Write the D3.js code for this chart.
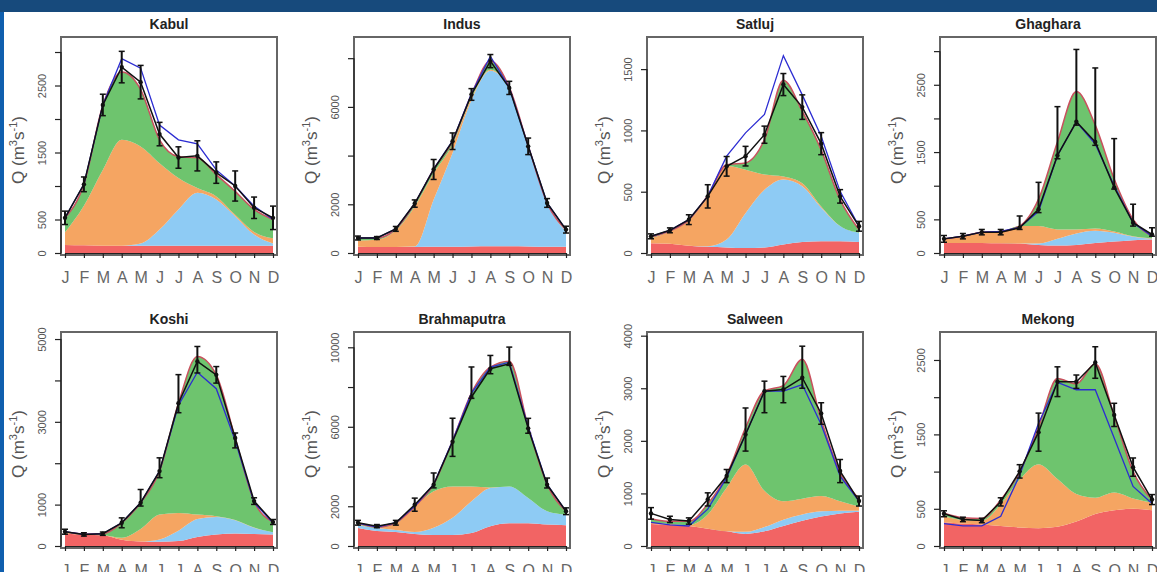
<!DOCTYPE html>
<html>
<head>
<meta charset="utf-8">
<script src="https://cdn.jsdelivr.net/npm/d3@7"></script>
<style>
  body { margin: 0; background: #fff; }
  svg { display: block; font-family: "Liberation Sans", Arial, sans-serif; }
</style>
</head>
<body>
<script>
// months and rivers
const months = ["J", "F", "M", "A", "M", "J", "J", "A", "S", "O", "N", "D"];
const rivers = ["Kabul", "Indus", "Satluj", "Ghaghara", "Koshi", "Brahmaputra", "Salween", "Mekong"];

// y axis limits and ticks per river
const yMax = [3224, 8870, 1762, 3210, 5170, 10770, 4070, 2876];
const yTicks = [
    [0, 500, 1000, 1500, 2000, 2500, 3000],
    [0, 2000, 4000, 6000, 8000],
    [0, 500, 1000, 1500],
    [0, 500, 1000, 1500, 2000, 2500, 3000],
    [0, 1000, 2000, 3000, 4000, 5000],
    [0, 2000, 4000, 6000, 8000, 10000],
    [0, 1000, 2000, 3000, 4000],
    [0, 500, 1000, 1500, 2000, 2500]
];
const yLabels = [
    [0, 500, 1500, 2500],
    [0, 2000, 6000],
    [0, 500, 1000, 1500],
    [0, 500, 1500, 2500],
    [0, 1000, 3000, 5000],
    [0, 2000, 6000, 10000],
    [0, 1000, 2000, 3000, 4000],
    [0, 500, 1500, 2500]
];

// flow components (m3/s), one row per river
const baseflow = [
    [120, 115, 110, 110, 110, 110, 110, 110, 110, 110, 110, 110],
    [260, 250, 250, 250, 260, 260, 270, 280, 280, 270, 260, 260],
    [80, 75, 60, 50, 45, 40, 45, 70, 90, 95, 95, 90],
    [150, 150, 150, 145, 140, 120, 110, 120, 150, 170, 190, 200],
    [300, 270, 260, 150, 110, 100, 120, 220, 280, 300, 290, 280],
    [900, 750, 700, 600, 550, 550, 650, 1000, 1150, 1150, 1080, 1050],
    [420, 400, 380, 330, 280, 230, 280, 380, 480, 560, 620, 650],
    [320, 300, 290, 270, 250, 240, 260, 330, 430, 480, 500, 480]
];
const glacier = [
    [0, 0, 0, 0, 30, 240, 540, 790, 690, 440, 165, 30],
    [0, 0, 0, 20, 1930, 3850, 6000, 7200, 6450, 4100, 1780, 620],
    [0, 0, 0, 5, 65, 285, 470, 530, 455, 275, 125, 75],
    [0, 0, 0, 0, 0, 20, 100, 170, 180, 130, 50, 10],
    [0, 0, 0, 0, 0, 60, 250, 430, 420, 320, 150, 50],
    [150, 150, 100, 100, 370, 870, 1600, 1920, 1850, 1270, 670, 530],
    [0, 0, 0, 0, 0, 40, 80, 120, 120, 100, 50, 20],
    [0, 0, 0, 0, 0, 0, 0, 0, 0, 0, 0, 0]
];
const snow = [
    [190, 590, 1130, 1580, 1450, 990, 470, 70, 45, 20, 40, 80],
    [250, 290, 680, 1640, 1090, 350, 100, 50, 20, 10, 10, 40],
    [40, 100, 205, 405, 600, 355, 125, 25, 25, 10, 0, 0],
    [50, 100, 150, 170, 260, 260, 140, 60, 35, 20, 10, 10],
    [25, 0, 0, 50, 300, 600, 430, 110, 20, 10, 5, 0],
    [50, 20, 320, 1300, 1830, 1580, 750, 30, 0, 0, 0, 0],
    [20, 20, 20, 270, 830, 1280, 690, 350, 300, 290, 180, 80],
    [80, 50, 50, 290, 640, 860, 640, 370, 220, 240, 140, 100]
];
const rain = [
    [215, 320, 960, 1010, 850, 350, 320, 450, 325, 350, 335, 280],
    [105, 75, 60, 120, 150, 130, 140, 350, 50, 20, 10, 40],
    [10, 5, 5, 10, 10, 55, 285, 785, 585, 460, 215, 25],
    [10, 0, 10, 5, 0, 400, 1300, 2050, 1535, 780, 250, 30],
    [20, 20, 37, 360, 635, 1050, 2650, 3820, 3415, 1980, 640, 248],
    [50, 30, 50, 0, 350, 2300, 4700, 6050, 6300, 3580, 1350, 170],
    [80, 50, 70, 200, 240, 700, 1900, 2200, 2650, 1450, 550, 150],
    [40, 30, 30, 60, 100, 500, 1350, 1480, 1800, 1030, 360, 40]
];

// second simulated total (blue line)
const simQ = [
    [525, 1025, 2210, 2900, 2760, 1910, 1690, 1630, 1240, 1000, 700, 500],
    [615, 615, 990, 2030, 3450, 4600, 6550, 8080, 6800, 4400, 2060, 960],
    [136, 185, 272, 462, 790, 980, 1130, 1610, 1290, 952, 503, 218],
    [210, 250, 310, 320, 380, 620, 1450, 1950, 1620, 1000, 450, 250],
    [345, 280, 297, 560, 1045, 1810, 3400, 4200, 3800, 2550, 1050, 560],
    [1150, 950, 1170, 2000, 3100, 5300, 7700, 9000, 9250, 6000, 3100, 1750],
    [450, 400, 380, 700, 1300, 2120, 2945, 2945, 3070, 2310, 1330, 855],
    [300, 270, 270, 400, 950, 1650, 2200, 2100, 2100, 1450, 800, 570]
];

// observed mean and error bar ends
const obsQ = [
    [525, 1025, 2210, 2775, 2550, 1775, 1425, 1450, 1200, 1000, 675, 525],
    [615, 615, 990, 2030, 3430, 4590, 6510, 7880, 6780, 4380, 2055, 960],
    [136, 185, 272, 462, 707, 790, 965, 1374, 1190, 892, 462, 218],
    [210, 250, 310, 310, 375, 650, 1450, 1950, 1650, 975, 450, 275],
    [345, 280, 297, 560, 1045, 1810, 3450, 4460, 4135, 2610, 1085, 578],
    [1170, 1000, 1170, 2080, 3080, 5250, 7500, 8920, 9170, 5920, 3080, 1750],
    [620, 506, 475, 886, 1330, 2120, 2945, 2975, 3200, 2520, 1425, 855],
    [433, 357, 343, 593, 1003, 1530, 2208, 2208, 2466, 1762, 1060, 624]
];
const obsLo = [
    [425, 915, 2050, 2540, 2300, 1600, 1265, 1225, 1040, 775, 515, 350],
    [535, 555, 890, 1880, 3020, 4250, 6270, 7610, 6510, 4040, 1875, 820],
    [116, 165, 232, 367, 627, 710, 895, 1284, 1090, 802, 407, 178],
    [160, 210, 270, 270, 350, 600, 1400, 1900, 1600, 950, 400, 250],
    [285, 240, 257, 440, 965, 1650, 3220, 4180, 3935, 2370, 1005, 520],
    [1050, 920, 1050, 1750, 2925, 4510, 7430, 8670, 9090, 5675, 2920, 1580],
    [510, 446, 415, 761, 1205, 1805, 2535, 2725, 3000, 2315, 1205, 760],
    [393, 327, 313, 538, 913, 1274, 2008, 2118, 2254, 1606, 937, 557]
];
const obsHi = [
    [625, 1135, 2370, 3010, 2800, 1950, 1585, 1675, 1360, 1225, 835, 700],
    [695, 675, 1090, 2180, 3840, 4930, 6750, 8150, 7050, 4720, 2235, 1100],
    [156, 205, 312, 557, 787, 870, 1035, 1464, 1290, 982, 517, 258],
    [260, 290, 350, 350, 550, 1050, 2175, 3025, 2750, 1700, 725, 375],
    [405, 320, 337, 680, 1365, 2130, 4140, 4820, 4335, 2730, 1165, 640],
    [1290, 1080, 1290, 2410, 3675, 6430, 9010, 9590, 10010, 6425, 3420, 1920],
    [730, 566, 535, 1011, 1455, 2625, 3135, 3225, 3800, 2725, 1645, 950],
    [473, 387, 373, 648, 1093, 1786, 2408, 2298, 2678, 1918, 1183, 691]
];

const keys = ["baseflow", "glacier", "snow", "rain"];
const colors = { baseflow: "#f26464", glacier: "#8ecbf4", snow: "#f5a562", rain: "#6ec46e" };

const svg = d3.select("body").append("svg")
    .attr("width", 1157)
    .attr("height", 572);

// page frame
svg.append("rect").attr("x", 0).attr("y", 0).attr("width", 1157).attr("height", 12).attr("fill", "#174a7c");
svg.append("rect").attr("x", 0).attr("y", 12).attr("width", 4).attr("height", 560).attr("fill", "#0f5fae");

const boxW = 216;

rivers.forEach(function(name, i) {
    const row = Math.floor(i / 4);
    const left = 61 + (i % 4) * 293;
    const top = 37 + row * 295;
    // second row is a touch shorter
    const boxH = row === 0 ? 218 : 216;
    const bottom = top + boxH;

    const x = d3.scaleLinear().domain([0, 11]).range([left + 4, left + boxW - 4]);
    const y = d3.scaleLinear().domain([0, yMax[i]]).range([bottom - 2, top]);

    const g = svg.append("g");

    // stacked components
    const rows = months.map(function(m, j) {
        return { baseflow: baseflow[i][j], glacier: glacier[i][j], snow: snow[i][j], rain: rain[i][j] };
    });
    const series = d3.stack().keys(keys)(rows);

    const area = d3.area()
        .x(function(d, j) { return x(j); })
        .y0(function(d) { return y(d[0]); })
        .y1(function(d) { return y(d[1]); })
        .curve(d3.curveMonotoneX);

    g.selectAll("path.layer")
        .data(series)
        .enter()
        .append("path")
        .attr("class", "layer")
        .attr("d", area)
        .attr("fill", function(d) { return colors[d.key]; });

    // total of components
    g.append("path")
        .attr("d", d3.line()
            .x(function(d, j) { return x(j); })
            .y(function(d) { return y(d[1]); })
            .curve(d3.curveMonotoneX)(series[3]))
        .attr("fill", "none")
        .attr("stroke", "#c9505e")
        .attr("stroke-width", 1.5);

    // blue simulated line
    g.append("path")
        .attr("d", d3.line()
            .x(function(d, j) { return x(j); })
            .y(function(d) { return y(d); })(simQ[i]))
        .attr("fill", "none")
        .attr("stroke", "#2c2cd2")
        .attr("stroke-width", 1.3);

    // observed line
    g.append("path")
        .attr("d", d3.line()
            .x(function(d, j) { return x(j); })
            .y(function(d) { return y(d); })(obsQ[i]))
        .attr("fill", "none")
        .attr("stroke", "#111")
        .attr("stroke-width", 1.5);

    // error bars
    const bars = g.selectAll("g.bar")
        .data(obsQ[i])
        .enter()
        .append("g")
        .attr("class", "bar");
    bars.append("line")
        .attr("x1", function(d, j) { return x(j); })
        .attr("x2", function(d, j) { return x(j); })
        .attr("y1", function(d, j) { return y(obsLo[i][j]); })
        .attr("y2", function(d, j) { return y(obsHi[i][j]); })
        .attr("stroke", "#111")
        .attr("stroke-width", 2);
    bars.append("line")
        .attr("x1", function(d, j) { return x(j) - 3; })
        .attr("x2", function(d, j) { return x(j) + 3; })
        .attr("y1", function(d, j) { return y(obsLo[i][j]); })
        .attr("y2", function(d, j) { return y(obsLo[i][j]); })
        .attr("stroke", "#111")
        .attr("stroke-width", 1.5);
    bars.append("line")
        .attr("x1", function(d, j) { return x(j) - 3; })
        .attr("x2", function(d, j) { return x(j) + 3; })
        .attr("y1", function(d, j) { return y(obsHi[i][j]); })
        .attr("y2", function(d, j) { return y(obsHi[i][j]); })
        .attr("stroke", "#111")
        .attr("stroke-width", 1.5);
    bars.append("circle")
        .attr("cx", function(d, j) { return x(j); })
        .attr("cy", function(d) { return y(d); })
        .attr("r", 2.2)
        .attr("fill", "#111");

    // box
    g.append("rect")
        .attr("x", left)
        .attr("y", top)
        .attr("width", boxW)
        .attr("height", boxH)
        .attr("fill", "none")
        .attr("stroke", "#666")
        .attr("stroke-width", 2);

    // y axis
    const yAxis = d3.axisLeft(y)
        .tickValues(yTicks[i])
        .tickSize(6)
        .tickSizeOuter(0)
        .tickFormat(function(d) { return yLabels[i].includes(d) ? d : ""; });
    const ya = g.append("g")
        .attr("transform", "translate(" + left + ",0)")
        .call(yAxis);
    ya.select(".domain").remove();
    ya.append("line")
        .attr("y1", y(yTicks[i][0]))
        .attr("y2", y(yTicks[i][yTicks[i].length - 1]))
        .attr("stroke", "#222")
        .attr("stroke-width", 1.2);
    ya.selectAll(".tick line").attr("stroke", "#222").attr("stroke-width", 1.2);
    ya.selectAll(".tick text")
        .attr("x", null)
        .attr("dy", null)
        .attr("transform", "translate(-15,0) rotate(-90)")
        .attr("text-anchor", "middle")
        .attr("fill", "#555")
        .style("font-size", "11px");

    // x axis
    const xAxis = d3.axisBottom(x)
        .tickValues(d3.range(12))
        .tickSize(5)
        .tickSizeOuter(0)
        .tickFormat(function(d) { return months[d]; });
    const xa = g.append("g")
        .attr("transform", "translate(0," + (bottom - 2) + ")")
        .call(xAxis);
    xa.select(".domain").attr("stroke", "#222");
    xa.selectAll(".tick line").attr("stroke", "#222").attr("stroke-width", 1.2);
    xa.selectAll(".tick text")
        .attr("y", 19)
        .attr("fill", "#666")
        .style("font-size", "16px");

    // y axis label
    const ql = g.append("text")
        .attr("transform", "translate(" + (left - 37) + "," + (top + boxH / 2 + 4) + ") rotate(-90)")
        .attr("text-anchor", "middle")
        .attr("fill", "#555")
        .style("font-size", "17px");
    ql.append("tspan").text("Q (m");
    ql.append("tspan").attr("dy", -7).style("font-size", "11px").text("3");
    ql.append("tspan").attr("dy", 7).text("s");
    ql.append("tspan").attr("dy", -7).style("font-size", "11px").text("-1");
    ql.append("tspan").attr("dy", 7).text(")");

    // title
    g.append("text")
        .attr("x", left + boxW / 2)
        .attr("y", top - 8)
        .attr("text-anchor", "middle")
        .attr("font-weight", "bold")
        .attr("fill", "#222")
        .style("font-size", "14px")
        .text(name);
});
</script>
</body>
</html>
